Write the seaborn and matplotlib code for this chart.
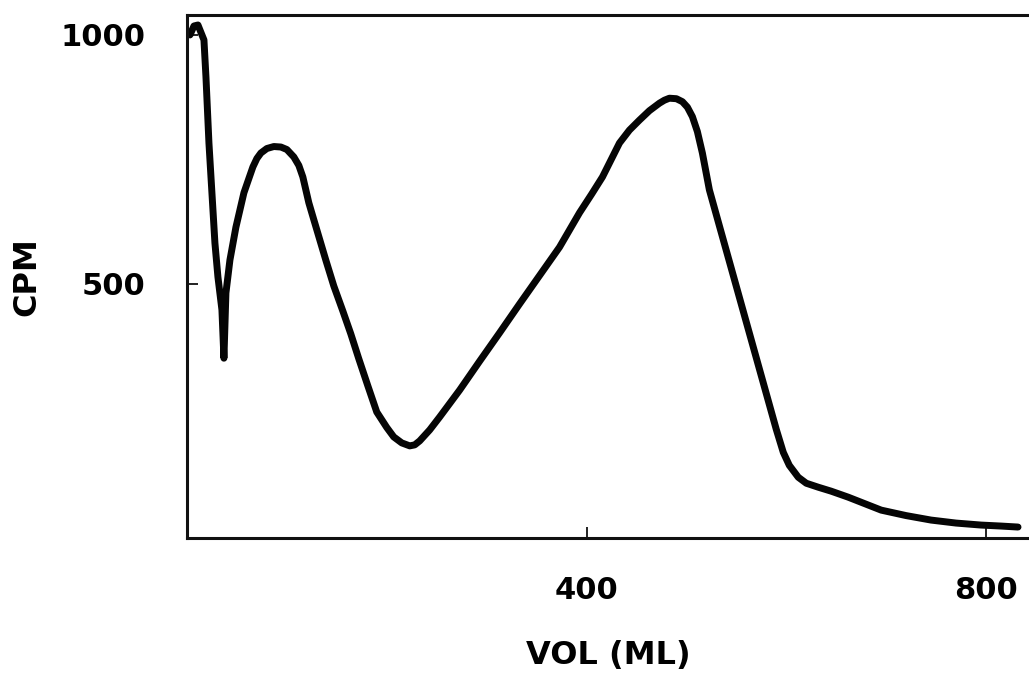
import matplotlib
matplotlib.use("Agg")
import matplotlib.pyplot as plt
import seaborn as sns
import pandas as pd

# Elution profile: counts per minute against eluted volume
vol_ml = [3, 7, 11, 15, 17, 19, 22, 26, 28, 31, 35, 37,
          39, 43, 49, 57, 62, 66, 70, 74, 80, 87, 94, 100, 107, 112,
          116, 122, 127, 131, 139, 147, 156, 164, 172, 181, 190, 200,
          207, 215, 223, 228, 233, 243, 253, 263, 273, 293, 313, 333,
          353, 373, 393, 405, 416, 433, 443, 453, 463, 473, 478, 483,
          490, 496, 501, 506, 511, 516, 523, 533, 545, 556, 573, 590,
          597, 603, 612, 620, 632, 645, 662, 695, 720, 745, 770, 795,
          815, 832]
cpm = [1000, 1018, 1020, 1000, 990, 916, 783, 649, 582, 514, 448, 351,
       482, 548, 614, 683, 712, 735, 752, 763, 772, 776, 775, 770, 755, 738,
       715, 663, 629, 602, 548, 496, 446, 400, 350, 296, 243, 212,
       193, 181, 175, 177, 185, 207, 233, 260, 287, 345, 402, 460,
       517, 574, 643, 680, 715, 783, 809, 829, 848, 863, 869, 873,
       872, 866, 855, 836, 806, 763, 689, 617, 531, 452, 330, 208,
       162, 136, 112, 100, 92, 84, 72, 46, 35, 26, 20, 16,
       14, 12]

x_ticks = [400, 800]
y_ticks = [500, 1000]

df = pd.DataFrame({"VOL": vol_ml, "CPM": cpm})

sns.set_style("ticks")
plt.rcParams["font.family"] = ["DejaVu Sans"]
plt.rcParams["font.weight"] = "bold"
plt.rcParams["text.color"] = "black"
plt.rcParams["xtick.color"] = "black"
plt.rcParams["ytick.color"] = "black"
plt.rcParams["axes.labelcolor"] = "black"

fig = plt.figure(figsize=(10.29, 6.77), dpi=100)
ax = fig.add_axes([0.1817, 0.2053, 0.8183, 0.7725])

sns.lineplot(data=df, x="VOL", y="CPM", ax=ax, sort=False, color="#050505",
             linewidth=5.0, solid_capstyle="round", solid_joinstyle="round")

ax.set_xlim(0, 843)
ax.set_ylim(-10, 1040)
ax.set_xticks(x_ticks)
ax.set_yticks(y_ticks)
ax.set_xticklabels([str(v) for v in x_ticks], fontsize=22, fontweight="bold",
                   color="black")
ax.set_yticklabels([str(v) for v in y_ticks], fontsize=22, fontweight="bold",
                   color="black")
ax.tick_params(axis="both", direction="in", length=8, width=1.3,
               color="#111111")
ax.tick_params(axis="x", pad=27)
ax.tick_params(axis="y", pad=30)

for side in ["left", "bottom", "top"]:
    ax.spines[side].set_linewidth(2.2)
    ax.spines[side].set_color("#111111")
ax.spines["right"].set_visible(False)

ax.set_xlabel("VOL (ML)", fontsize=23, fontweight="bold", color="black")
ax.set_ylabel("CPM", fontsize=23, fontweight="bold", color="black")
ax.xaxis.set_label_coords(0.5, -0.195)
ax.yaxis.set_label_coords(-0.172, 0.5)

fig.savefig("out.png", dpi=100, facecolor="white")
